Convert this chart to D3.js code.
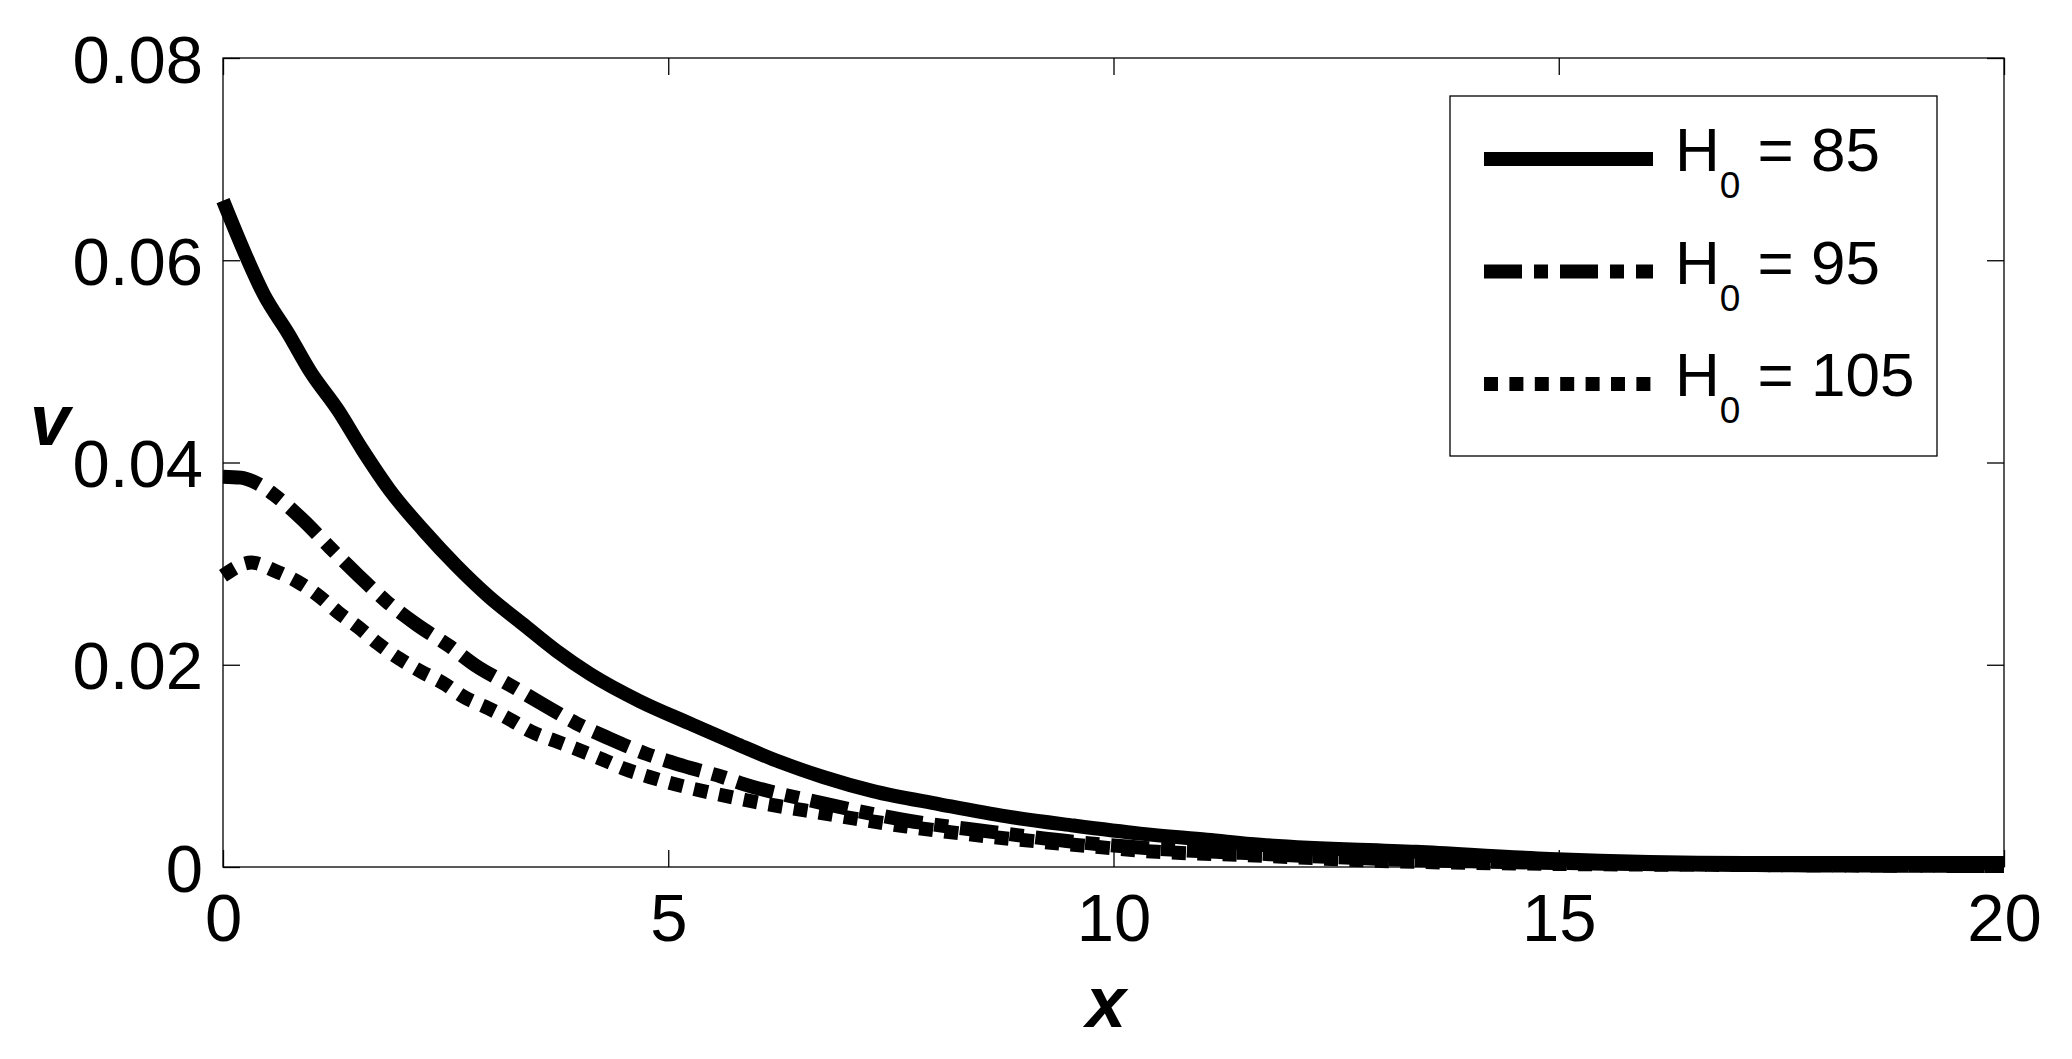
<!DOCTYPE html>
<html>
<head>
<meta charset="utf-8">
<script src="https://cdn.jsdelivr.net/npm/d3@7"></script>
<style>
  html, body { margin: 0; padding: 0; background: #fff; }
  svg { display: block; }
  text { font-family: "Liberation Sans", Arial, Helvetica, sans-serif; fill: #000; }
</style>
</head>
<body>
<svg id="chart" width="2072" height="1059"></svg>
<script>
// ---- Data ----
const seriesNames = ["85", "95", "105"];

const x85 = [0, 0.26, 0.46, 0.73, 0.98, 1.29, 1.57, 1.87, 2.25, 2.62, 2.99, 3.37, 3.74, 4.12, 4.68, 5.24, 5.76, 6.25, 6.74, 7.30, 8.05, 8.80, 9.55, 10.3, 11.05, 11.65, 13.4, 14.9, 17.1, 20];
const v85 = [0.0659, 0.0604, 0.0566, 0.0528, 0.0490, 0.0452, 0.0412, 0.0373, 0.0333, 0.0298, 0.0267, 0.0240, 0.0214, 0.0191, 0.0164, 0.0142, 0.0122, 0.0104, 0.0089, 0.0075, 0.0062, 0.0050, 0.0041, 0.0033, 0.0027, 0.0022, 0.0015, 0.0008, 0.0004, 0.0004];

const x95 = [0, 0.2, 0.37, 0.56, 0.9, 1.2, 1.5, 1.83, 2.17, 2.55, 2.84, 3.22, 3.59, 3.97, 4.34, 4.75, 5.17, 5.61, 5.81, 6.74, 7.68, 8.61, 9.55, 10.49, 11.43, 13, 15, 17, 20];
const v95 = [0.0386, 0.0385, 0.0380, 0.0369, 0.0343, 0.0316, 0.0290, 0.0263, 0.0240, 0.0218, 0.0199, 0.0180, 0.0161, 0.0142, 0.0127, 0.0112, 0.0100, 0.0089, 0.0083, 0.0063, 0.0046, 0.0035, 0.0025, 0.0018, 0.0014, 0.0008, 0.0004, 0.0002, 0.0001];

const x105 = [0, 0.32, 0.58, 0.84, 1.09, 1.29, 1.52, 1.74, 1.98, 2.23, 2.47, 2.71, 2.98, 3.22, 3.46, 3.72, 3.99, 4.27, 4.51, 4.79, 5.88, 6.74, 7.68, 8.61, 9.55, 10.49, 11.43, 13, 15, 17, 20];
const v105 = [0.0288, 0.0301, 0.0293, 0.0282, 0.0267, 0.0252, 0.0237, 0.0221, 0.0206, 0.0193, 0.0182, 0.0168, 0.0157, 0.0146, 0.0134, 0.0125, 0.0116, 0.0106, 0.0097, 0.0089, 0.0066, 0.0053, 0.0040, 0.0030, 0.0022, 0.0015, 0.0012, 0.0006, 0.0003, 0.0002, 0.0001];

const xTicks = [0, 5, 10, 15, 20];
const xTickLabels = ["0", "5", "10", "15", "20"];
const yTicks = [0, 0.02, 0.04, 0.06, 0.08];
const yTickLabels = ["0", "0.02", "0.04", "0.06", "0.08"];

// ---- Layout ----
const svg = d3.select("#chart");
const L = 223, R = 2004, T = 58, B = 867;
const x = d3.scaleLinear().domain([0, 20]).range([L, R]);
const y = d3.scaleLinear().domain([0, 0.08]).range([B, T]);

const series = [
  { name: seriesNames[0], xs: x85, vs: v85, dash: null },
  { name: seriesNames[1], xs: x95, vs: v95, dash: "38,12,14,12" },
  { name: seriesNames[2], xs: x105, vs: v105, dash: "14,11.4" }
];

const lw = 14;
const tickLen = 17;

const fmtX = (d) => xTickLabels[xTicks.indexOf(d)];
const fmtY = (d) => yTickLabels[yTicks.indexOf(d)];

const gx = svg.append("g").attr("transform", `translate(0,${B})`)
  .call(d3.axisBottom(x).tickValues(xTicks).tickFormat(fmtX).tickSizeInner(-tickLen).tickSizeOuter(0).tickPadding(26));
const gxt = svg.append("g").attr("transform", `translate(0,${T})`)
  .call(d3.axisTop(x).tickValues(xTicks).tickFormat("").tickSizeInner(-tickLen).tickSizeOuter(0));
const gy = svg.append("g").attr("transform", `translate(${L},0)`)
  .call(d3.axisLeft(y).tickValues(yTicks).tickFormat(fmtY).tickSizeInner(-tickLen).tickSizeOuter(0).tickPadding(20));
const gyr = svg.append("g").attr("transform", `translate(${R},0)`)
  .call(d3.axisRight(y).tickValues(yTicks).tickFormat("").tickSizeInner(-tickLen).tickSizeOuter(0));

[gx, gxt, gy, gyr].forEach(g => {
  g.select(".domain").remove();
  g.selectAll(".tick line").attr("stroke", "#000").attr("stroke-width", 1.3);
  g.selectAll("text").attr("font-size", 67).attr("fill", "#000")
    .attr("font-family", '"Liberation Sans", Arial, sans-serif');
});
gy.selectAll("text").attr("dy", "0.36em");

// Box
svg.append("rect").attr("x", L).attr("y", T).attr("width", R - L).attr("height", B - T)
  .attr("fill", "none").attr("stroke", "#000").attr("stroke-width", 1.3);

// Lines
const line = d3.line().x(d => x(d[0])).y(d => y(d[1])).curve(d3.curveMonotoneX);
series.forEach(s => {
  const pts = s.xs.map((xv, i) => [xv, s.vs[i]]);
  svg.append("path").datum(pts)
    .attr("d", line)
    .attr("fill", "none")
    .attr("stroke", "#000")
    .attr("stroke-width", lw)
    .attr("stroke-linejoin", "round")
    .attr("stroke-dasharray", s.dash);
});

// Axis labels
svg.append("text").attr("x", 50).attr("y", 445).attr("text-anchor", "middle")
  .attr("font-size", 72).attr("font-weight", "bold").attr("font-style", "italic").text("v");
svg.append("text").attr("x", 1106).attr("y", 1027).attr("text-anchor", "middle")
  .attr("font-size", 72).attr("font-weight", "bold").attr("font-style", "italic").text("x");

// Legend
const lg = svg.append("g");
lg.append("rect").attr("x", 1450).attr("y", 96).attr("width", 487).attr("height", 360)
  .attr("fill", "#fff").attr("stroke", "#000").attr("stroke-width", 1.3);
series.forEach((s, i) => {
  const cy = 159 + i * 112.5;
  lg.append("line").attr("x1", 1484).attr("x2", 1653).attr("y1", cy).attr("y2", cy)
    .attr("stroke", "#000").attr("stroke-width", lw).attr("stroke-dasharray", s.dash);
  const t = lg.append("text").attr("x", 1675).attr("y", cy + 12).attr("font-size", 62);
  t.append("tspan").text("H");
  t.append("tspan").attr("font-size", 37).attr("dy", 27).text("0");
  t.append("tspan").attr("dy", -27).text(" = " + s.name);
});
</script>
</body>
</html>
